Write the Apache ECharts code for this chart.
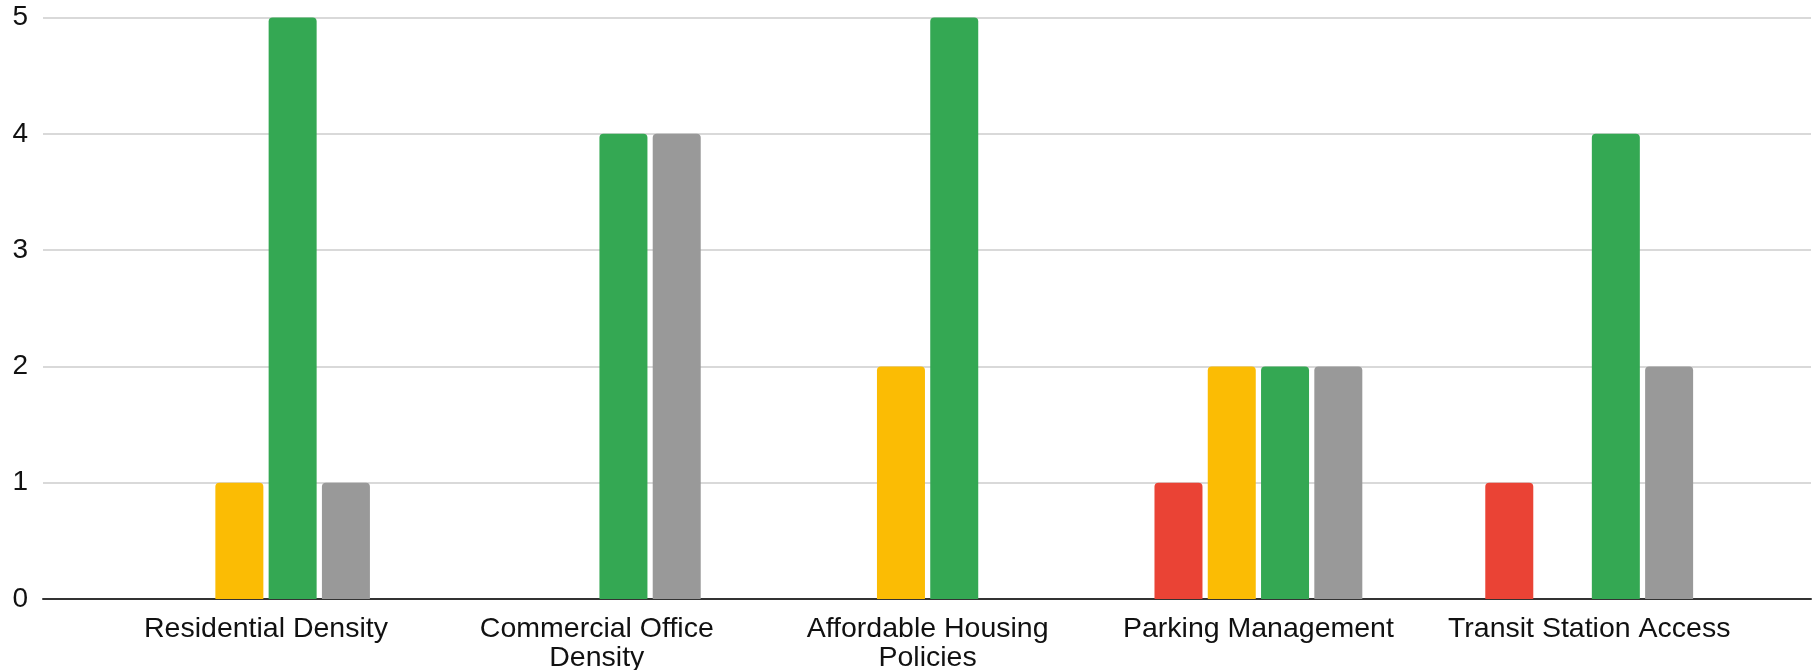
<!DOCTYPE html>
<html>
<head>
<meta charset="utf-8">
<script src="https://cdn.jsdelivr.net/npm/echarts@6/dist/echarts.min.js"></script>
<style>
html,body{margin:0;padding:0;background:#fff;}
#chart{width:1814px;height:670px;}
</style>
</head>
<body>
<div id="chart"></div>
<script>
const categories = ["Residential Density", "Commercial Office\nDensity", "Affordable Housing\nPolicies", "Parking Management", "Transit Station Access"];
const seriesNames = ["Red", "Yellow", "Green", "Gray"];
const redValues = [0, 0, 0, 1, 1];
const yellowValues = [1, 0, 2, 2, 0];
const greenValues = [5, 4, 5, 2, 4];
const grayValues = [1, 4, 0, 2, 2];
const yTicks = [0, 1, 2, 3, 4, 5];
const colors = ["#EA4335", "#FBBC04", "#34A853", "#999999"];

const chart = echarts.init(document.getElementById('chart'), null, {renderer: 'canvas'});
const font = 'Liberation Sans, Arial, sans-serif';
const allValues = [redValues, yellowValues, greenValues, grayValues];

const option = {
  animation: false,
  backgroundColor: '#ffffff',
  grid: [
    {left: 43, right: 3, top: 17.5, bottom: 71, containLabel: false, outerBoundsMode: 'none'},
    {left: 100.6, right: 59.4, top: 17.5, bottom: 71, containLabel: false, outerBoundsMode: 'none'}
  ],
  xAxis: [
    {gridIndex: 0, type: 'value', min: 0, max: 1, show: true,
     axisLine: {show: true, onZero: false, lineStyle: {color: '#333333', width: 2}},
     axisTick: {show: false}, axisLabel: {show: false}, splitLine: {show: false}},
    {gridIndex: 1, type: 'category', data: categories,
     axisLine: {show: false}, axisTick: {show: false},
     axisLabel: {color: '#111111', fontSize: 28.5, fontFamily: font, lineHeight: 29, margin: 16, interval: 0}}
  ],
  yAxis: [
    {gridIndex: 0, type: 'value', min: yTicks[0], max: yTicks[yTicks.length - 1], interval: 1,
     axisLine: {show: false}, axisTick: {show: false},
     axisLabel: {color: '#111111', fontSize: 28, fontFamily: font, margin: 15},
     splitLine: {show: true, lineStyle: {color: '#cccccc', width: 1.5}}},
    {gridIndex: 1, type: 'value', min: yTicks[0], max: yTicks[yTicks.length - 1], interval: 1, show: false,
     splitLine: {show: false}}
  ],
  series: seriesNames.map((name, i) => ({
    name: name,
    type: 'bar',
    xAxisIndex: 1,
    yAxisIndex: 1,
    data: allValues[i],
    barWidth: 48,
    barGap: '11%',
    itemStyle: {color: colors[i], borderRadius: [4, 4, 0, 0]}
  }))
};
chart.setOption(option);
</script>
</body>
</html>
